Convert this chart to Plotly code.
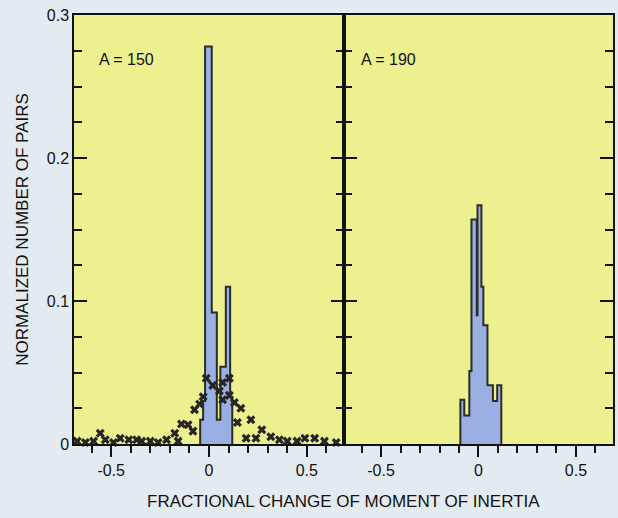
import plotly.graph_objects as go

# ---- data ----
left_edges = [-0.045, -0.030, -0.020, 0.014, 0.040, 0.058, 0.086, 0.108, 0.119]
left_heights = [0.017, 0.030, 0.278, 0.092, 0.017, 0.054, 0.110, 0.033]

right_edges = [-0.093, -0.073, -0.047, -0.036, -0.009, -0.005, 0.015, 0.025, 0.046, 0.074, 0.096, 0.117]
right_heights = [0.031, 0.020, 0.051, 0.157, 0.090, 0.167, 0.110, 0.083, 0.041, 0.030, 0.041]

cross_x = [-0.674, -0.632, -0.59, -0.556, -0.53, -0.488, -0.454, -0.41, -0.37, -0.344, -0.30,
           -0.26, -0.217, -0.175, -0.158, -0.141, -0.107, -0.082, -0.074, -0.048, -0.03,
           -0.014, 0.019, 0.053, 0.07, 0.07, 0.104, 0.104, 0.13, 0.145, 0.163, 0.19, 0.214,
           0.24, 0.27, 0.316, 0.36, 0.40, 0.45, 0.49, 0.54, 0.59, 0.65]
cross_y = [0.002, 0.001, 0.002, 0.0075, 0.003, 0.001, 0.004, 0.003, 0.003, 0.002, 0.002,
           0.001, 0.003, 0.0075, 0.002, 0.014, 0.0135, 0.009, 0.024, 0.028, 0.033,
           0.046, 0.041, 0.037, 0.043, 0.031, 0.046, 0.034, 0.029, 0.015, 0.025, 0.004, 0.017,
           0.004, 0.010, 0.005, 0.003, 0.002, 0.002, 0.004, 0.004, 0.002, 0.001]

panel_labels = ["A = 150", "A = 190"]
x_tickvals = [-0.5, 0, 0.5]
x_ticktext = ["-0.5", "0", "0.5"]
y_tickvals = [0, 0.1, 0.2, 0.3]
y_ticktext = ["0", "0.1", "0.2", "0.3"]


def step_xy(edges, heights):
    xs = [edges[0]] + list(edges)
    ys = [0] + list(heights) + [0]
    return xs, ys


FONT = "Liberation Sans, Arial, sans-serif"
BLUE = "#9aafe2"
OUTLINE = "#2b2b2b"
INK = "#111"

fig = go.Figure()

lx, ly = step_xy(left_edges, left_heights)
fig.add_trace(go.Scatter(x=lx, y=ly, mode="lines", line=dict(shape="hv", color=OUTLINE, width=2),
                         fill="tozeroy", fillcolor=BLUE, xaxis="x", yaxis="y", showlegend=False))
fig.add_trace(go.Scatter(x=cross_x, y=cross_y, mode="markers",
                         marker=dict(symbol="x", size=8, color="#262626"),
                         cliponaxis=False, xaxis="x", yaxis="y", showlegend=False))
rx, ry = step_xy(right_edges, right_heights)
fig.add_trace(go.Scatter(x=rx, y=ry, mode="lines", line=dict(shape="hv", color=OUTLINE, width=2),
                         fill="tozeroy", fillcolor=BLUE, xaxis="x2", yaxis="y2", showlegend=False))

split = 271 / 541
xcommon = dict(range=[-0.69, 0.69], showline=True, linecolor=INK, linewidth=1.5, mirror=True,
               ticks="outside", ticklen=11, tickwidth=2, tickcolor=INK,
               tickvals=x_tickvals, ticktext=x_ticktext, showgrid=False, zeroline=False,
               tickfont=dict(family=FONT, size=16, color=INK),
               minor=dict(dtick=0.1, tick0=0, ticks="outside", ticklen=7, tickwidth=2, tickcolor=INK))
ycommon = dict(range=[0, 0.3], showline=True, linecolor=INK, linewidth=1.5, mirror="ticks",
               ticks="inside", ticklen=13, tickwidth=2, tickcolor=INK,
               tickvals=y_tickvals, ticktext=y_ticktext, showgrid=False, zeroline=False,
               minor=dict(dtick=0.025, tick0=0, ticks="inside", ticklen=8, tickwidth=2, tickcolor=INK))

fig.update_layout(
    width=618, height=518,
    margin=dict(l=74, r=3, t=15, b=74),
    paper_bgcolor="#e3ebf1",
    plot_bgcolor="#edf08f",
    font=dict(family=FONT, color=INK),
    xaxis=dict(domain=[0, split], anchor="y", **xcommon),
    xaxis2=dict(domain=[split, 1], anchor="y2", **xcommon),
    yaxis=dict(anchor="x", tickfont=dict(family=FONT, size=16, color=INK),
               title=dict(text="NORMALIZED NUMBER OF PAIRS", font=dict(family=FONT, size=17, color=INK),
                          standoff=14),
               **ycommon),
    yaxis2=dict(anchor="x2", matches="y", showticklabels=False, **ycommon),
    annotations=[
        dict(text=panel_labels[0], x=-0.42, y=0.269, xref="x", yref="y", showarrow=False,
             font=dict(family=FONT, size=16, color=INK)),
        dict(text=panel_labels[1], x=-0.46, y=0.269, xref="x2", yref="y2", showarrow=False,
             font=dict(family=FONT, size=16, color=INK)),
        dict(text="FRACTIONAL CHANGE OF MOMENT OF INERTIA", x=0.5, y=-0.135, xref="paper", yref="paper",
             showarrow=False, yanchor="middle", font=dict(family=FONT, size=17, color=INK)),
    ],
)

fig.write_html("out.html")
